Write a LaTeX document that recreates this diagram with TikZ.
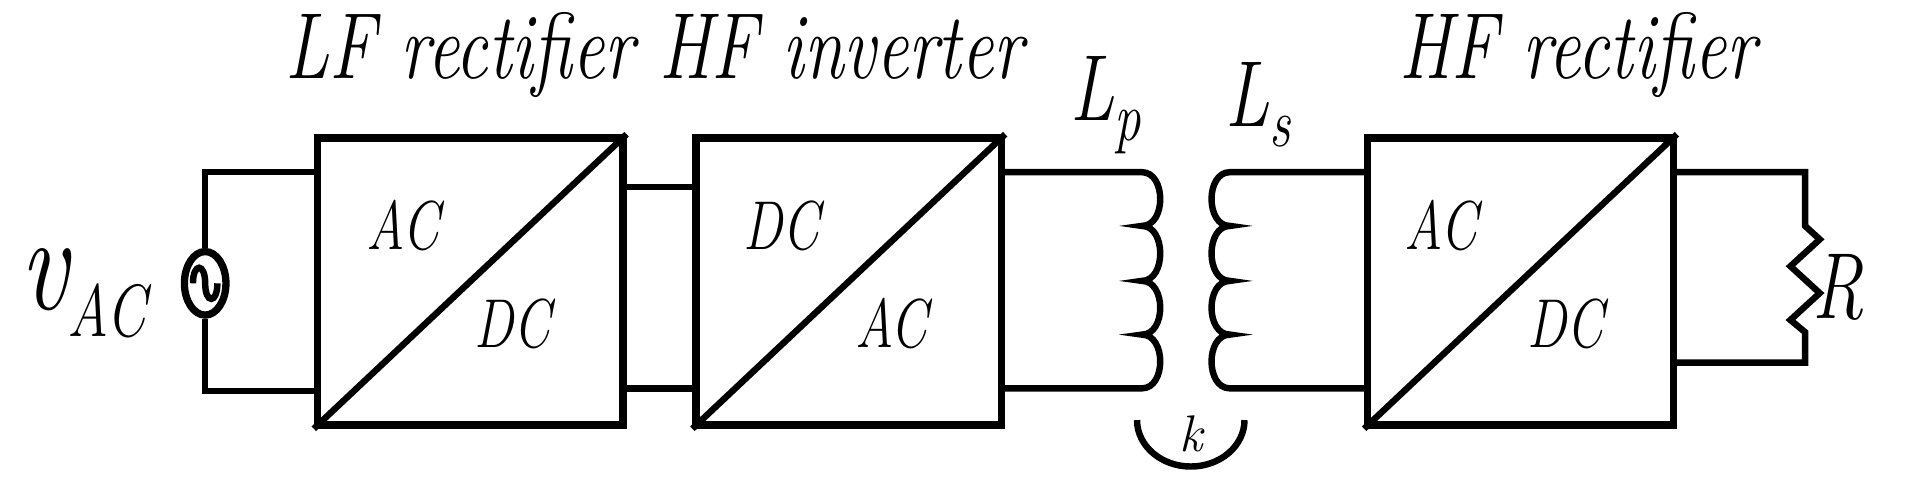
\documentclass[tikz,border=0pt]{standalone}
\usetikzlibrary{shapes.geometric}
\newcommand{\tall}[1]{\scalebox{0.88}[1.15]{#1}}
\begin{document}
\begin{tikzpicture}[x=0.01cm,y=-0.01cm,line width=1.5pt,
  conv/.style={draw,line width=1.7pt,minimum width=2.5cm,minimum height=2.35cm,inner sep=0pt},
  lab/.style={font=\fontsize{14}{16}\selectfont\itshape},
  ttl/.style={font=\fontsize{19}{22}\selectfont\itshape}]
\useasboundingbox (0,0) rectangle (1568,398);
\node[conv] (b1) at (385,230.5) {};
\node[conv] (b2) at (695,230.5) {};
\node[conv] (b3) at (1245,230.5) {};
\foreach \b in {b1,b2,b3}{\draw (\b.south west) -- (\b.north east);}
\node[lab] at (330,185) {\tall{AC}}; \node[lab] at (420,265) {\tall{DC}};
\node[lab] at (640,185) {\tall{DC}}; \node[lab] at (730,265) {\tall{AC}};
\node[lab] at (1180,185) {\tall{AC}}; \node[lab] at (1282,265) {\tall{DC}};
% source
\node[draw,ellipse,line width=1.7pt,minimum width=0.34cm,minimum height=0.52cm,inner sep=0pt] (src) at (168,232) {};
\draw (src.north) -- (168,141) -- (b1.west |- 0,141);
\draw (src.south) -- (168,320) -- (b1.west |- 0,320);
\draw (158,232) .. controls (158,215) and (168,215) .. (168,232) .. controls (168,249) and (178,249) .. (178,232);
\node[font=\fontsize{28}{30}\selectfont\itshape] at (68,240) {\tall{v\raisebox{-0.45ex}{\fontsize{15}{18}\selectfont AC}}};
\draw (b1.east |- 0,153) -- (b2.west |- 0,153);
\draw (b1.east |- 0,318) -- (b2.west |- 0,318);
% primary coil
\coordinate (p1) at (935,141); \coordinate (p2) at (935,318);
\draw (b2.east |- p1) -- (p1)
  .. controls (955,141) and (955,185) .. (935,185)
  .. controls (955,185) and (955,230) .. (935,230)
  .. controls (955,230) and (955,274) .. (935,274)
  .. controls (955,274) and (955,318) .. (p2) -- (b2.east |- p2);
% secondary coil
\coordinate (s1) at (1007,141); \coordinate (s2) at (1007,318);
\draw (b3.west |- s1) -- (s1)
  .. controls (987,141) and (987,185) .. (1007,185)
  .. controls (987,185) and (987,230) .. (1007,230)
  .. controls (987,230) and (987,274) .. (1007,274)
  .. controls (987,274) and (987,318) .. (s2) -- (b3.west |- s2);
\draw (931,344) arc[start angle=180,end angle=0,x radius=44,y radius=38];
\node[font=\fontsize{12}{14}\selectfont\itshape] at (975,355) {k};
\node[ttl] at (905,86) {\tall{L\raisebox{-0.5ex}{\fontsize{14}{16}\selectfont p}}};
\node[ttl] at (1030,86) {\tall{L\raisebox{-0.5ex}{\fontsize{14}{16}\selectfont s}}};
\node[ttl] at (536,45) {\tall{LF rectifier HF inverter}};
\node[ttl] at (1292,45) {\tall{HF rectifier}};
% load
\draw (b3.east |- 0,141) -- (1478,141) -- (1478,185) -- (1490,196) -- (1466,218) -- (1490,240) -- (1466,262) -- (1478,272) -- (1478,297) -- (b3.east |- 0,297);
\node[ttl] at (1505,235) {\tall{R}};
\end{tikzpicture}
\end{document}
